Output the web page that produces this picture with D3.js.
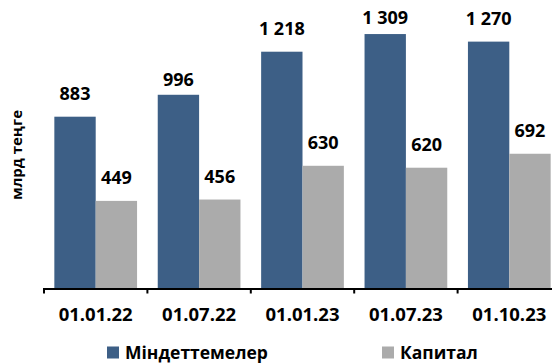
<!DOCTYPE html>
<html>
<head>
<meta charset="utf-8">
<script src="https://cdn.jsdelivr.net/npm/d3@7"></script>
<style>
  html, body { margin: 0; padding: 0; background: #fff; }
  svg { display: block; }
  text { font-family: "Open Sans", "DejaVu Sans", sans-serif; font-weight: 700; fill: #000; }
</style>
</head>
<body>
<svg id="chart" width="552" height="363"></svg>
<script>
// Reporting dates
const dates = ["01.01.22", "01.07.22", "01.01.23", "01.07.23", "01.10.23"];
// Liabilities and capital, bn tenge
const liabilities = [883, 996, 1218, 1309, 1270];
const capital = [449, 456, 630, 620, 692];
const seriesNames = ["Міндеттемелер", "Капитал"];
const yTitle = "млрд теңге";

const colors = ["#3D5F86", "#ABABAB"];

const svg = d3.select("#chart");
const width = 552, height = 363;
const baseY = 288;

const x = d3.scaleBand()
  .domain(dates)
  .range([44, 561])
  .paddingInner(0.2)
  .paddingOuter(0.1);

const xSub = d3.scaleBand()
  .domain([0, 1])
  .range([0, x.bandwidth()]);

const y = d3.scaleLinear()
  .domain([0, 1400])
  .range([baseY, baseY - 1400 * 0.194]);

const fmt = d3.formatLocale({ decimal: ",", thousands: "\u00a0", grouping: [3], currency: ["", ""] }).format(",d");

const series = [liabilities, capital];

// bars
series.forEach((vals, s) => {
  svg.append("g")
    .selectAll("rect")
    .data(vals)
    .join("rect")
    .attr("x", (d, i) => x(dates[i]) + xSub(s))
    .attr("y", d => y(d))
    .attr("width", xSub.bandwidth())
    .attr("height", d => baseY - y(d))
    .attr("fill", colors[s]);
});

// value labels above bars
const labelGap = 17;
const minBaseline = 24;
const gapOverride = { "0:01.07.22": 9 };
series.forEach((vals, s) => {
  svg.append("g")
    .selectAll("text")
    .data(vals)
    .join("text")
    .attr("x", (d, i) => x(dates[i]) + xSub(s) + xSub.bandwidth() / 2)
    .attr("y", (d, i) => {
      const g = gapOverride[s + ":" + dates[i]] ?? labelGap;
      return Math.max(minBaseline, y(d) - g);
    })
    .attr("text-anchor", "middle")
    .style("font-size", "18px")
    .text(d => fmt(d));
});

// category axis
const step = x.step();
const axis = svg.append("g");
axis.append("line")
  .attr("x1", 43).attr("x2", width)
  .attr("y1", baseY + 1).attr("y2", baseY + 1)
  .attr("stroke", "#000").attr("stroke-width", 2);
d3.range(dates.length + 1).forEach(i => {
  const tx = 44 + i * step;
  axis.append("line")
    .attr("x1", tx).attr("x2", tx)
    .attr("y1", baseY).attr("y2", baseY + 5.5)
    .attr("stroke", "#000").attr("stroke-width", 2);
});
axis.selectAll("text.cat")
  .data(dates)
  .join("text")
  .attr("class", "cat")
  .attr("x", d => x(d) + x.bandwidth() / 2)
  .attr("y", 321)
  .attr("text-anchor", "middle")
  .style("font-size", "18.5px")
  .text(d => d);

// y title
svg.append("text")
  .attr("transform", "translate(21.5,155) rotate(-90)")
  .attr("text-anchor", "middle")
  .style("font-size", "15px")
  .text(yTitle);

// legend
const legendX = [107, 382];
const legend = svg.append("g");
seriesNames.forEach((name, s) => {
  legend.append("rect")
    .attr("x", legendX[s]).attr("y", 346.5)
    .attr("width", 12).attr("height", 12)
    .attr("fill", colors[s]);
  legend.append("text")
    .attr("x", legendX[s] + 18).attr("y", 358.5)
    .style("font-size", "17.5px")
    .text(name);
});
</script>
</body>
</html>
